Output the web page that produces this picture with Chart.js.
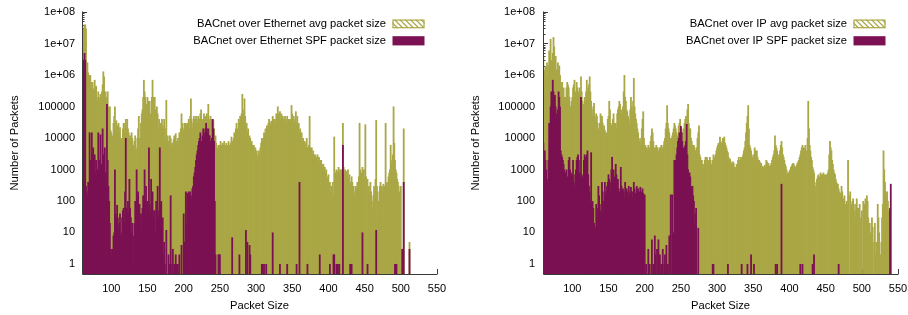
<!DOCTYPE html>
<html><head><meta charset="utf-8">
<script src="https://cdn.jsdelivr.net/npm/chart.js@4"></script>
<style>
html,body{margin:0;padding:0;background:#fff;}
#wrap{position:relative;width:908px;height:315px;overflow:hidden;}
.c{position:absolute;top:0;width:454px;height:315px;}
</style></head><body>
<div id="wrap">
<div class="c" style="left:0"><canvas id="c1" width="454" height="315"></canvas></div>
<div class="c" style="left:454px"><canvas id="c2" width="454" height="315"></canvas></div>
</div>
<script>
// packet sizes start at 60 bytes, one value per byte
const firstSize = 60;
const xTicks = [100,150,200,250,300,350,400,450,500,550];
const yTicks = [1,10,100,1000,10000,100000,1e6,1e7,1e8];
const yTickLabels = ['1','10','100','1000','10000','100000','1e+06','1e+07','1e+08'];
const ethLabels = ['BACnet over Ethernet avg packet size','BACnet over Ethernet SPF packet size'];
const ipLabels = ['BACnet over IP avg packet size','BACnet over IP SPF packet size'];

// BACnet over Ethernet, avg packet size (sizes 60..512)
const ethAvg = [
2e4,5e4,3e7,4e7,4e7,3e7,1.2e6,2.5e6,1.2e6,1e6,
1e6,1e6,6e5,4e5,6e5,3.7e5,2e5,7e5,4e5,4.5e5,
2e5,1.5e5,3e5,2e5,1.4e5,2.5e5,1e5,3e5,5e5,1.3e6,
9e5,2e5,3e5,1.5e5,2e5,3e5,1e5,5e4,1e5,1.8e4,
1.5e4,8e3,1.2e4,3e4,5e4,1e5,2e4,3.6e4,1e4,2.5e4,
3e4,1.5e4,2.2e4,8e3,1e4,6e3,2e4,3e4,1.5e4,3e4,
4e4,2e4,4e4,2e4,1.5e4,1e4,1.2e4,8e3,1.5e4,1e4,
6e3,5e3,8e3,1.2e4,5e3,4e3,1e4,2e4,5e4,1e4,
6e3,3e4,6e4,8e4,2e5,7e5,3e5,2e5,1e5,1.2e5,
2e5,1.5e5,8e4,1.5e5,6e4,5e4,2e5,7e5,2e5,1.2e5,
2e5,8e4,6e4,1e5,6e4,2e4,4e4,2e4,3e4,2e4,
4e4,2.5e4,2e4,4e4,2e4,1e4,1.6e5,1e4,1.2e4,8e3,
6e3,1.2e4,1e4,5e3,7e3,5e3,9e3,1.2e4,6e3,1.4e4,
8e3,5e3,1e4,6e3,1.5e4,1.4e4,2e4,6e4,3e4,2e4,
1.5e4,3e4,2e4,3e4,2.5e4,3e4,1.5e4,4e4,2e4,5e4,
1.8e5,4e4,2e4,3e4,5e4,4e4,3e4,5e4,4e4,3e4,
5e4,3e4,4e4,6e4,8e4,3e4,4e4,3e4,6e4,4e4,
5e4,3e4,6e4,4e4,1.2e5,4e4,3e4,5e4,4e4,3e4,
4e4,3.6e4,2e4,1e4,1.2e4,7e3,5e3,4e3,6e3,5e3,
6e3,8e3,6e3,5e3,7e3,6e3,8e3,5e3,6e3,7e3,
6e3,5e3,8e3,6e3,4e3,7e3,1.1e4,8e3,6e3,1e4,
1.5e4,8e3,2e4,3e4,2e4,1.5e4,4e4,3e4,5e4,4e4,
6e4,2.5e5,8e4,6e4,1.8e5,5e4,2e4,3e4,1.5e4,2e4,
1e4,1.2e4,1e4,7e3,8e3,6e3,5e3,6e3,4e3,5e3,
3e3,4e3,2.5e3,3e3,4e3,3e3,5e3,7e3,1e4,8e3,
1e4,1.5e4,1.2e4,2e4,1.5e4,2.5e4,2e4,3e4,4e4,3e4,
2.5e4,3.5e4,3e4,5e4,4e4,3e4,4e4,3e4,6e4,4e4,
1e5,6e4,5e4,7e4,4e4,6e4,3e4,5e4,4e4,3e4,
5e4,4e4,3e4,5e4,3e4,4e4,3.5e4,4e4,3e4,1.1e5,
6e4,4e4,5e4,3e4,4e4,7e4,3e4,5e4,2e4,3e4,
1.5e4,2e4,1e4,1.5e4,8e3,1e4,6e3,8e3,5e3,7e3,
1e4,5e3,4e3,6e3,5e4,5e3,4e3,5e3,3e3,4e3,
3e3,2.5e3,3e3,2e3,2.5e3,3e3,2e3,2.5e3,1.5e3,2e3,
2e3,1.5e3,1.2e3,1.5e3,1e3,1.2e3,800,1e3,600,500,
700,300,400,200,300,250,400,150,1.1e4,600,
800,1e3,600,900,1.2e3,700,1e3,800,1e3,1e3,
3e4,1.2e3,800,1e3,700,900,600,1e3,500,700,
400,300,600,400,200,300,150,200,300,250,
400,300,600,3e4,1e3,500,800,1.2e3,700,1e3,
500,2.7e4,600,300,500,200,300,150,400,200,
100,60,150,300,200,500,3.7e4,300,200,100,
40,300,400,250,300,200,350,250,300,3e4,
300,400,250,600,800,1e3,6e3,1.5e3,2e3,3e3,
1e5,7e3,2e3,1e3,800,500,400,300,200,150,
300,0,3,0,2e4,0,0,0,0,0,
0,0,5];

// BACnet over Ethernet, SPF packet size (sizes 60..512)
const ethSpf = [
400,300,3e6,5e6,3e6,300,200,150,400,100,
1.5e4,2e3,500,1.5e4,3e3,5e3,1e3,3e3,800,2e3,
500,1e3,1.5e4,2e3,800,1.3e4,1.5e3,600,2e4,3e3,
1e3,5e3,800,400,1.2e5,2e3,300,100,20,3,
2,3,3,8,10,1e3,40,30,75,30,
15,20,40,10,8,30,50,60,20,200,
1e4,60,30,100,40,500,60,30,10,20,
8,1,20,100,50,1e3,150,200,40,80,
30,40,15,60,150,80,1e3,100,300,40,
100,30,5e3,80,40,500,60,200,30,50,
50,10,100,60,300,30,50,5e3,80,100,
15,30,2,5,1,0,12,0,0,2,
0,1,150,0,1,3,0,1,0,2,
1,0,1,0,2,0,0,4,0,0,
40,5,3,200,20,180,100,200,150,200,
150,120,250,300,600,800,1.2e3,2e3,3e3,4e3,
6e3,8e3,1e4,1.5e4,6e3,8e3,1.2e4,2e4,1.5e4,1e4,
2e4,3e4,2e4,1.5e4,2e4,1.2e4,1.2e4,8e3,5e3,1e4,
4e4,2e4,8e3,100,2,0,0,0,2,2,
2,0,0,0,0,0,0,0,0,0,
0,0,0,0,0,0,0,7,0,0,
0,0,0,0,0,0,0,2,0,0,
0,0,0,0,0,0,12,0,5,0,
0,4,2,0,0,0,0,0,0,0,
0,0,0,0,0,0,0,0,1,1,
0,1,0,0,1,0,0,0,0,0,
0,0,0,10,0,0,0,0,0,0,
0,0,0,1,0,0,0,0,0,0,
0,0,0,1,0,0,0,0,0,0,
0,0,0,0,0,0,1,0,0,0,
400,0,0,0,0,0,0,0,0,0,
0,1,0,0,0,0,0,0,0,0,
0,0,0,0,0,0,0,0,2,0,
0,0,0,0,0,0,0,0,0,0,
0,0,1,0,0,0,0,2,2,0,
0,1,0,1,0,1,0,0,0,0,
6e3,0,0,0,0,0,0,0,0,0,
1,1,1,0,0,0,0,0,0,0,
0,0,0,0,0,0,0,10,0,0,
0,0,0,0,1,0,0,0,0,0,
0,0,0,0,0,0,12,0,0,0,
0,0,0,0,0,0,0,0,0,0,
0,0,0,0,0,0,0,0,0,0,
0,0,1,1,1,0,0,0,0,0,
0,0,3,0,400,0,0,0,0,0,
0,0,3];

// BACnet over IP, avg packet size (sizes 60..550)
const ipAvg = [
4e6,1.5e6,8e5,1.8e6,1e6,2.5e6,1e6,2e6,6e6,2e6,
1.4e7,3e6,1.8e6,5e6,1.6e7,8e6,3e6,4e6,1.5e6,1.1e6,
2.5e6,1.5e6,2e6,1e6,6e5,4e5,6e5,3e5,4e5,2e5,
1.5e5,2e5,4e5,6e5,5e5,4e5,2e5,1e5,1e5,1.5e5,
2e5,4e5,5e5,7e5,3e5,1.5e5,6e5,4e5,2e5,3e5,
4e5,3e5,9e5,3e5,1.5e5,1e5,1.2e5,2e5,1.5e5,3e5,
7e5,3e5,4e5,5e5,9e5,3e5,1.5e5,8e4,5e4,1e5,
1.3e5,5e4,4e4,6e4,5e4,3e4,2e4,1.5e4,3e4,6e4,
4e4,5e4,3e4,2e4,2.5e4,1.8e4,1.5e4,1.2e4,1.5e4,4e4,
5e4,1.5e5,8e4,3e4,2.5e4,2e4,4e4,6e4,3e4,1.5e4,
3e4,2e4,6e4,8e4,1e5,1.5e5,1.2e5,8e4,6e4,8e4,
1e5,3e5,1e6,2e5,1.5e5,8e4,7e4,5e4,4e4,3e4,
8e4,2e5,1e5,7e4,1.5e5,8e5,1e5,6e4,4e4,3e4,
2e4,1.5e4,1e4,8e3,6e3,1e4,2e4,4e4,7e4,1e4,
5e3,6e3,4e3,5e3,4e3,6e3,5e3,4e3,8e3,1.2e4,
2e4,1.5e4,8e3,5e3,4e3,5e3,6e3,5e3,5e3,4e3,
4e3,5e3,5e3,6e3,5e3,4e3,6e3,8e3,1e4,2e4,
3e4,1.1e5,3e4,2e4,1.5e4,1e4,8e3,1e4,1.2e4,1.5e4,
2e4,3e4,2.5e4,2e4,1.5e4,1.2e4,1e4,2.5e4,3e4,4e4,
2e4,2e4,1.5e4,1e4,2e4,3e4,4e4,5e4,4e4,8e4,
1.2e5,3e4,2e4,2e4,1e4,8e3,6e3,5e3,6e3,5e3,
4e3,4e3,5e3,1e4,1.5e4,2.5e4,3e3,2.5e3,2e3,2e3,
1.5e3,1e3,1.5e3,2e3,2.5e3,2e3,2.5e3,2e3,1.8e3,2e3,
2.5e3,2e3,1.5e3,1.5e3,2e3,3e3,2.5e3,2e3,3e3,4e3,
5e3,6e3,7e3,5e3,1.1e4,8e3,7e3,6e3,1e4,9e3,
1.1e4,7e3,6e3,5e3,4e3,3.5e3,2.5e3,2e3,2.2e3,1.8e3,
1.5e3,1.6e3,1.8e3,1.6e3,1.2e3,1e3,1.2e3,1.5e3,1.3e3,2e3,
2.5e3,2e3,1.8e3,2.5e3,2e3,2.5e3,3e3,4e3,5e3,8e3,
1.5e4,3e4,5e4,1.1e5,2e4,6e3,5e3,4e3,3e3,2.5e3,
2e3,3e3,5e3,4e3,3e3,4e3,2.5e3,2e3,2e3,1.8e3,
1.5e3,1.6e3,1.2e3,1.3e3,1e3,1.2e3,1.4e3,1.2e3,2e3,1.8e3,
1.5e3,1.6e3,1.3e3,1.2e3,1.4e3,1.6e3,2e3,2.5e3,3e3,4e3,
1.2e4,6e3,5e3,4e3,3e3,2.5e3,3e3,4e3,6e3,8e3,
5e3,3e3,2.5e3,2e3,1.5e3,1.3e3,1e3,800,700,800,
900,1e3,1.2e3,1.3e3,1.5e3,1.6e3,1.5e3,1.3e3,1.2e3,1e3,
1.4e3,1.6e3,1.8e3,2e3,2.5e3,3e3,4e3,5e3,6e3,5e3,
4e3,5e3,6e3,4e3,3e3,1e4,1.5e5,2e4,6e3,4e3,
2.5e3,2e3,1.2e3,1e3,800,400,300,0,500,600,
700,300,600,800,700,600,700,800,600,700,
600,700,600,800,1e3,3e3,8e3,5e3,4e3,2e3,
1.5e3,1e3,800,700,500,400,300,350,250,200,
180,150,300,200,100,120,150,80,60,100,
80,2e3,150,0,200,60,80,100,120,80,
50,30,80,120,60,40,60,80,30,20,
50,0,100,50,80,120,60,150,100,30,
0,20,10,8,30,15,0,5,20,2,
5,0,80,30,10,0,2,5,30,80,
4e3,1e3,400,200,150,200,100,50,0,0,
0,0,0,0,0,0,0,0,0,0,
0];

// BACnet over IP, SPF packet size (sizes 60..550)
const ipSpf = [
7e3,2e3,4e3,2e3,1e3,500,300,2e3,3e4,1e4,
1e5,3e5,2e5,7e5,3e5,2e5,2.3e5,1e5,6e4,4e4,
8e4,3e5,2e5,1e5,4e3,3e3,2.5e3,2e3,1.5e3,1e3,
400,800,1e3,600,400,2e3,2.5e3,1e3,800,700,
600,2e3,400,300,700,1e3,2e3,2.5e3,3e3,2e3,
800,500,2e5,700,600,400,2e3,3e3,2e3,2.5e3,
3e3,4e3,700,300,200,100,3.5e3,80,100,60,
20,10,15,80,60,40,300,150,80,50,
40,400,200,100,30,400,150,200,300,400,
700,500,400,200,1e3,2.5e3,700,1e3,600,300,
1.5e3,700,300,500,250,200,150,1.2e3,300,200,
250,200,120,400,200,250,130,200,300,150,
200,280,200,120,200,400,250,180,150,300,
200,250,130,200,280,150,200,250,180,150,
160,0,1,0,0,3,0,1,0,0,
6,0,1,0,8,2,0,3,0,6,
0,2,0,1,0,3,0,1,2,0,
4,0,1,0,8,0,160,0,160,0,
10,2e3,1e3,2e3,3e3,5e3,8e3,1e4,1.5e4,1e4,
2.4e4,1.5e4,8e3,5e3,3e3,5e3,6e3,8e3,2.8e4,3e3,
1e3,500,800,600,300,200,300,150,100,20,
40,60,0,0,14,0,0,0,0,0,
0,0,0,0,0,0,0,0,0,0,
0,0,0,0,1,1,0,0,0,0,
0,0,0,0,0,0,0,0,0,0,
0,0,0,0,0,1,0,0,0,0,
0,0,0,0,0,0,0,0,0,0,
0,0,0,0,1,0,0,0,0,0,
0,0,1,0,0,0,0,2,0,0,
0,1,0,0,0,0,0,0,0,0,
0,0,0,0,0,0,0,0,0,0,
0,0,0,0,0,0,0,0,0,0,
0,1,0,1,0,0,0,0,0,350,
0,0,0,0,0,0,0,0,0,0,
0,0,0,0,0,0,0,0,0,0,
0,0,0,0,0,1,0,0,1,0,
0,0,0,0,0,0,0,0,0,0,
0,0,1,0,2,0,0,0,0,0,
0,0,0,0,0,0,0,0,0,0,
0,0,0,0,0,0,0,0,0,0,
0,0,0,0,0,0,0,0,1,0,
0,0,0,0,0,0,0,0,0,0,
0,0,0,0,0,0,0,0,0,0,
0,0,0,0,0,0,0,0,0,0,
0,0,0,0,0,0,0,0,0,0,
0,0,0,0,0,0,0,0,0,0,
0,0,0,0,0,0,0,0,0,0,
0,0,0,0,0,0,0,0,0,60,
350,0,0,0,0,0,0,0,0,0,
0,0,0,0,0,0,0,0,0,0,
2];

const OLIVE = '#aaa746';
const PURPLE = '#7b1152';
const AXIS = '#3a3a3a';
const FONT = "'Liberation Sans', Arial, Helvetica, sans-serif";
Chart.defaults.font.family = FONT;
Chart.defaults.font.size = 11;
Chart.defaults.color = '#000';

const gpPlugin = {
  id: 'gp',
  beforeDatasetsDraw(chart) {
    const {ctx, chartArea: a, scales: {x, y}} = chart;
    ctx.save();
    ctx.strokeStyle = AXIS; ctx.lineWidth = 1;
    ctx.beginPath();
    yTicks.forEach(v => { const py = Math.round(y.getPixelForValue(v)) + 0.5; ctx.moveTo(a.left, py); ctx.lineTo(a.left + 5, py); });
    yTicks.slice(0, -1).forEach(d => { for (let k = 2; k < 10; k++) { const py = Math.round(y.getPixelForValue(d * k)) + 0.5; ctx.moveTo(a.left, py); ctx.lineTo(a.left + 2.5, py); } });
    xTicks.forEach(v => { const px = Math.round(x.getPixelForValue(v)) + 0.5; ctx.moveTo(px, a.bottom); ctx.lineTo(px, a.bottom - 5); });
    ctx.stroke();
    ctx.restore();
  },
  afterDatasetsDraw(chart) {
    const {ctx, chartArea: a} = chart;
    ctx.save();
    ctx.strokeStyle = AXIS; ctx.lineWidth = 1;
    ctx.beginPath();
    ctx.moveTo(Math.round(a.left) + 0.5, a.top - 0.5);
    ctx.lineTo(Math.round(a.left) + 0.5, Math.round(a.bottom) + 0.5);
    ctx.lineTo(a.right + 0.5, Math.round(a.bottom) + 0.5);
    ctx.stroke();
    // legend
    const ds = chart.data.datasets;
    const tx = a.right - 51, bx = a.right - 44.5, bw = 32;
    const rows = [{ty: a.top + 11.8, by: a.top + 7.6, bh: 8.6}, {ty: a.top + 28.6, by: a.top + 24.2, bh: 9.2}];
    ctx.font = '11.2px ' + FONT;
    ctx.fillStyle = '#000'; ctx.textAlign = 'right'; ctx.textBaseline = 'middle';
    ds.forEach((d, i) => ctx.fillText(d.label, tx, rows[i].ty));
    const r0 = rows[0];
    ctx.fillStyle = '#fff'; ctx.fillRect(bx, r0.by, bw, r0.bh);
    ctx.save();
    ctx.beginPath(); ctx.rect(bx, r0.by, bw, r0.bh); ctx.clip();
    ctx.strokeStyle = ds[0].backgroundColor; ctx.lineWidth = 1.3;
    ctx.beginPath();
    for (let s = -r0.bh; s < bw + r0.bh; s += 5.3) { ctx.moveTo(bx + s, r0.by); ctx.lineTo(bx + s + r0.bh, r0.by + r0.bh); }
    ctx.stroke();
    ctx.restore();
    ctx.strokeStyle = ds[0].backgroundColor; ctx.lineWidth = 1.2;
    ctx.strokeRect(bx + 0.5, r0.by + 0.5, bw - 1, r0.bh - 1);
    const r1 = rows[1];
    ctx.fillStyle = ds[1].backgroundColor; ctx.fillRect(bx, r1.by, bw, r1.bh);
    ctx.restore();
  }
};

function toPoints(arr) { return arr.map((v, i) => ({x: firstSize + i, y: v > 0 ? v : null})); }

function makeChart(id, labels, avg, spf, yAxisWidth, yLabelGap, yTitlePad, padRight) {
  return new Chart(document.getElementById(id), {
    type: 'bar',
    data: { datasets: [
      {label: labels[0], data: toPoints(avg), backgroundColor: OLIVE, order: 2, grouped: false, categoryPercentage: 1, barPercentage: 2.5},
      {label: labels[1], data: toPoints(spf), backgroundColor: PURPLE, order: 1, grouped: false, categoryPercentage: 1, barPercentage: 2.5}
    ]},
    options: {
      responsive: false, animation: false, devicePixelRatio: 1,
      layout: {padding: {left: 0, right: padRight, top: 12, bottom: 0}},
      plugins: {legend: {display: false}, tooltip: {enabled: false}},
      scales: {
        x: {
          type: 'linear', min: 59.5, max: 550, offset: false,
          afterBuildTicks: s => { s.ticks = xTicks.map(v => ({value: v})); },
          afterFit: s => { s.height = 41; },
          grid: {display: true, drawOnChartArea: false, drawTicks: true, tickLength: 8, tickColor: 'rgba(0,0,0,0)'},
          border: {display: false},
          ticks: {padding: 0, color: '#000', maxRotation: 0, autoSkip: false, font: {size: 11}},
          title: {display: true, text: 'Packet Size', color: '#000', font: {size: 11.2}, padding: {top: 0, bottom: 2.4}}
        },
        y: {
          type: 'logarithmic', min: 0.48, max: 1e8,
          afterBuildTicks: s => { s.ticks = yTicks.map(v => ({value: v})); },
          afterFit: s => { s.width = yAxisWidth; },
          grid: {display: true, drawOnChartArea: false, drawTicks: true, tickLength: yLabelGap, tickColor: 'rgba(0,0,0,0)'},
          border: {display: false},
          ticks: {padding: 0, color: '#000', autoSkip: false, font: {size: 11},
            callback: v => yTickLabels[yTicks.indexOf(v)]},
          title: {display: true, text: 'Number of Packets', color: '#000', font: {size: 11.2}, padding: {top: yTitlePad, bottom: 0}}
        }
      }
    },
    plugins: [gpPlugin]
  });
}

makeChart('c1', ethLabels, ethAvg, ethSpf, 82, 7, 8.4, 17);
makeChart('c2', ipLabels, ipAvg, ipSpf, 89, 8, 15.2, 10);
</script>
</body></html>
